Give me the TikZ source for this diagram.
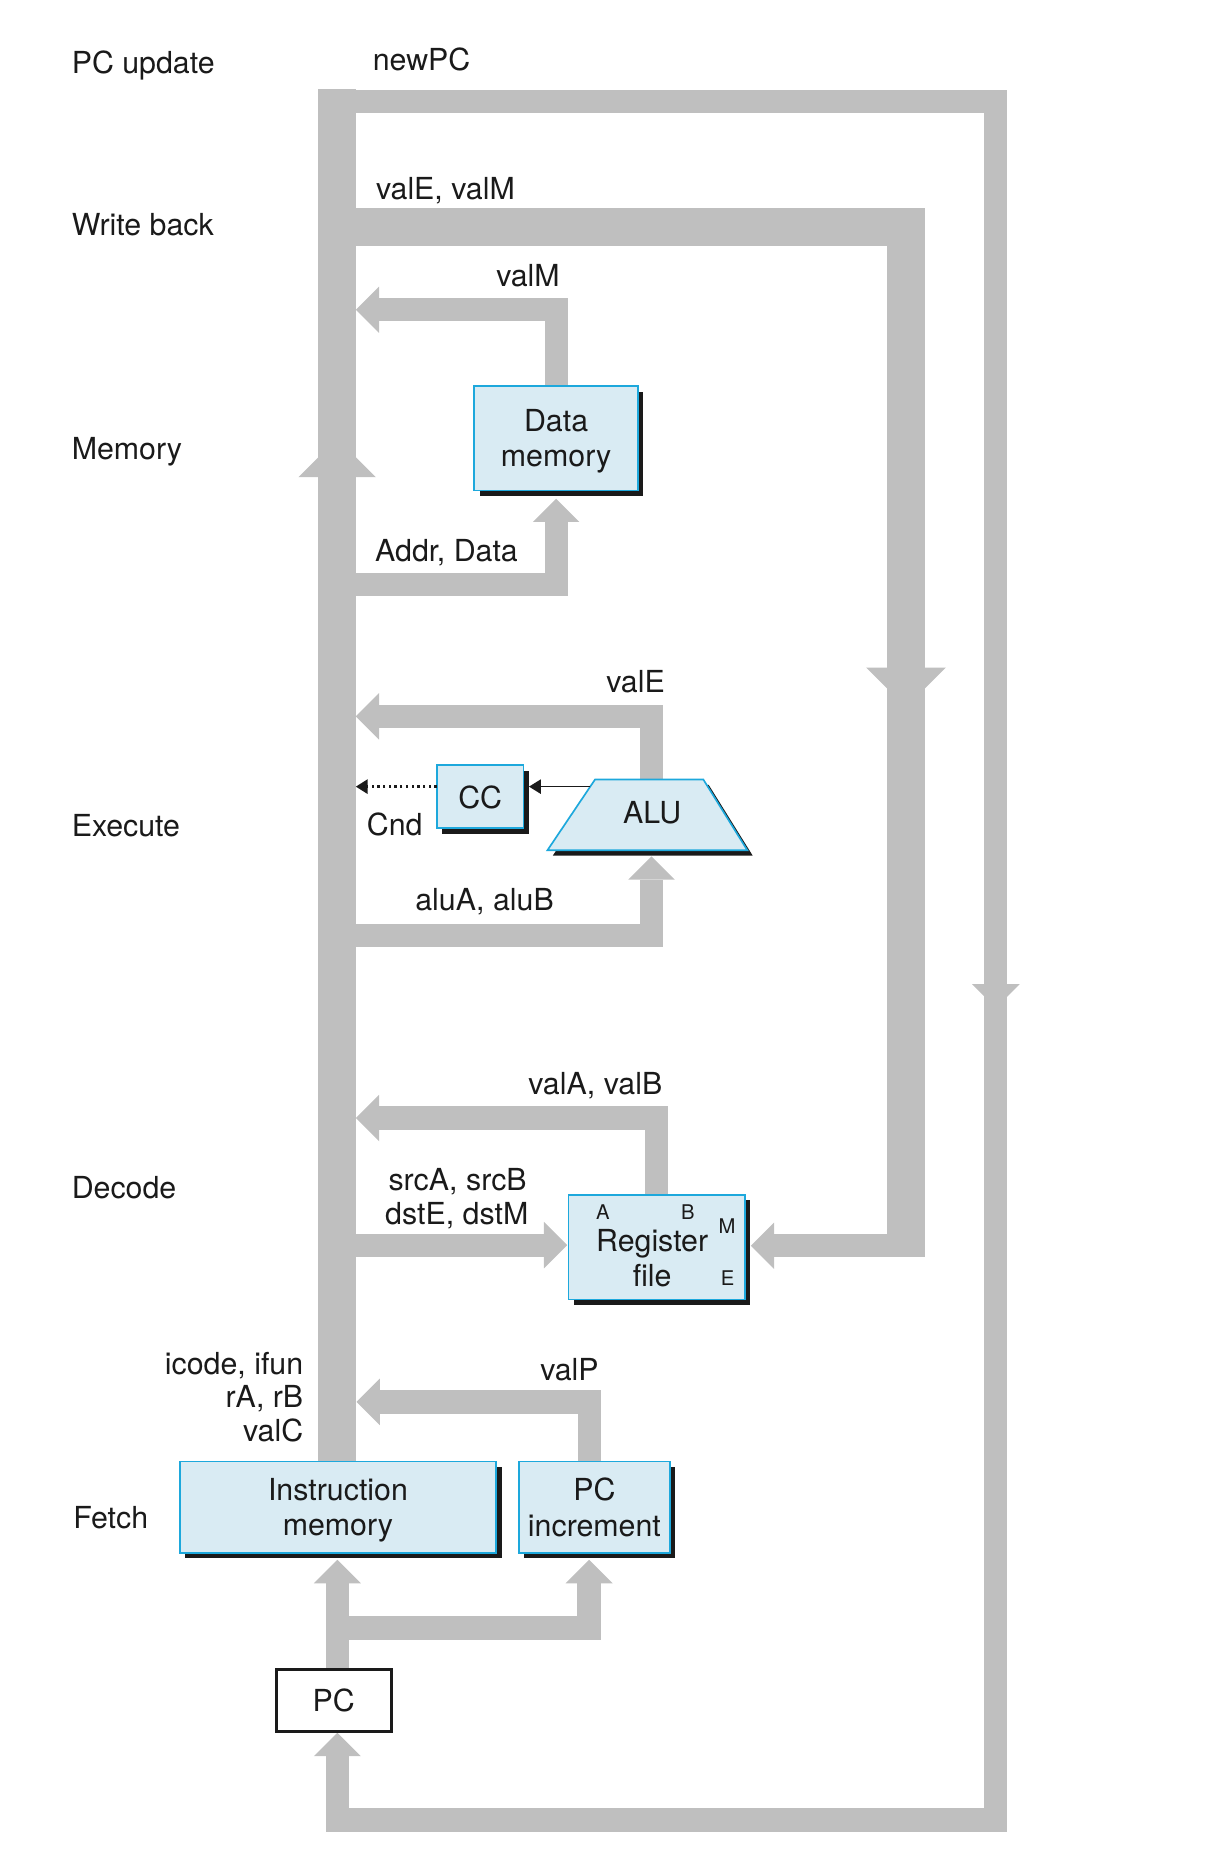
\documentclass[tikz,border=0pt]{standalone}
\usepackage{fontspec}
\setmainfont{TeX Gyre Heros}
\usetikzlibrary{shadows,arrows.meta}
\definecolor{busgray}{HTML}{BFBFBF}
\definecolor{boxfill}{HTML}{D9EBF3}
\definecolor{boxline}{HTML}{1DA8DC}
\definecolor{ink}{HTML}{1A1A1A}
\pgfdeclarelayer{buses}
\pgfsetlayers{buses,main}
% heads of the gray buses: tip point, half width (45 degree flanks)
\newcommand\bhL[2]{\fill[busgray] (#1) -- ++(#2,-#2) -- ++(0,2*#2) -- cycle;}
\newcommand\bhR[2]{\fill[busgray] (#1) -- ++(-#2,-#2) -- ++(0,2*#2) -- cycle;}
\newcommand\bhU[2]{\fill[busgray] (#1) -- ++(-#2,#2) -- ++(2*#2,0) -- cycle;}
\begin{document}
\begin{tikzpicture}[x=0.5pt,y=-0.5pt,
  every node/.style={font=\fontsize{12.75}{14.75}\selectfont, text=ink, inner sep=0pt, outer sep=0pt},
  lbl/.style={anchor=base west},
  rlbl/.style={anchor=base east},
  port/.style={anchor=base, font=\fontsize{8.5}{9}\selectfont},
  wide/.style={draw=busgray, line width=16pt, line join=miter},
  narrow/.style={draw=busgray, line width=9.75pt, line join=miter},
  unit/.style={draw=boxline, fill=boxfill, line width=0.7pt, align=center, text depth=0pt,
    drop shadow={shadow xshift=2.25pt, shadow yshift=-2.25pt, fill=ink, opacity=1}},
  wire/.style={draw=ink, line width=0.7pt, -{Triangle[length=5pt,width=6pt]}},
]
\useasboundingbox (0,0) rectangle (1029,1568);

% ---- hardware units
\node[unit, minimum width=68.75pt, minimum height=43.75pt] (dmem) at (467.3,368.3) {Data\\memory};
\node[unit, minimum width=36.5pt, minimum height=26.5pt] (cc) at (403.5,669.5) {CC};
\node[unit, minimum width=74.15pt, minimum height=44pt] (regfile) at (551.9,1048) {};
\node[unit, minimum width=133pt, minimum height=38.5pt] (imem) at (284,1266.5) {Instruction\\memory};
\node[unit, minimum width=63.5pt, minimum height=38.5pt, text depth=-1.5pt] (pcinc) at (499.5,1266.5) {PC\\increment};
\node[draw=ink, fill=white, line width=1.25pt, minimum width=48.5pt, minimum height=26pt] (pc) at (280.5,1429) {PC};

% ALU trapezoid with its shadow
\coordinate (aluTL) at (500,655); \coordinate (aluTR) at (591,655);
\coordinate (aluBR) at (628,714.5); \coordinate (aluBL) at (460,714.5);
\fill[ink] (504.5,659.5) -- (595.5,659.5) -- (632.5,719) -- (464.5,719) -- cycle;
\filldraw[draw=boxline, fill=boxfill, line width=0.7pt] (aluTL) -- (aluTR) -- (aluBR) -- (aluBL) -- cycle;
\node[anchor=base] (alu) at (548,692) {ALU};

% register file text and ports
\node[align=center] (rftext) at (548,1057.3) {Register\\file};
\node[port] (pA) at (506.6,1025) {A};
\node[port] (pB) at (578,1025) {B};
\node[port] (pM) at (611,1036.7) {M};
\node[port] (pE) at (611.5,1080) {E};

% condition codes
\coordinate (aluL) at (496,661);
\coordinate (ccR) at (444.5,661);
\coordinate (cndEnd) at (299,661);
\draw[wire] (aluL) -- (ccR);
\draw[wire, line width=1pt, dash pattern=on 1pt off 1.4pt] (cc.west |- aluL) -- (cndEnd);

% ---- gray buses
\begin{pgfonlayer}{buses}
\coordinate (busTop) at (283.3,75);
\draw[wide] (busTop) -- (busTop |- imem.north);
\fill[busgray] (250.8,401) -- (315.8,401) -- (283.3,368.5) -- cycle;
% newPC loop
\draw[narrow] (283.3,85) -- (836.8,85) -- (836.8,1529.3) -- (283.5,1529.3) -- (283.5,1475.7);
\fill[busgray] (816.8,827) -- (856.8,827) -- (836.8,847) -- cycle;
\bhU{283.5,1456}{19.7}
% write back
\draw[wide] (283.3,190.6) -- (761.3,190.6) -- (761.3,1056.6);
\fill[busgray] (727.8,561) -- (794.8,561) -- (761.3,594.5) -- cycle;
\draw[narrow] (761.3,1046.8) -- (650.5,1046.8);
\bhL{631,1046.8}{19.5}
% memory
\draw[narrow] (dmem.north) |- (318.5,260.3);
\bhL{299,260.3}{19.5}
\draw[narrow] (283.3,491.3) -| (467.3,438.5);
\bhU{467.3,419}{19.5}
% execute
\draw[narrow] (547.5,655) |- (318.5,602);
\bhL{299,602}{19.5}
\draw[narrow] (283.3,786) -| (547.5,739.1);
\bhU{547.5,719.6}{19.5}
% decode
\draw[narrow] (regfile.north) |- (318.5,939.5);
\bhL{299,939.5}{19.5}
\draw[narrow] (283.3,1046.3) -- (457.1,1046.3);
\bhR{476.6,1046.3}{19.5}
% fetch
\draw[narrow] (pcinc.north -| 495.5,0) |- (319.1,1178);
\bhL{299.6,1178}{19.5}
\draw[narrow] (pc.north -| 283.5,0) -- (283.5,1330.4);
\bhU{283.5,1310.7}{19.7}
\draw[narrow] (283.5,1368) -| (495,1330.4);
\bhU{495,1310.7}{19.7}
\end{pgfonlayer}

% ---- stage names
\node[lbl] (sPC) at (60.3,61.7) {PC update};
\node[lbl] (sWB) at (60.3,197.6) {Write back};
\node[lbl] (sMem) at (60.3,386) {Memory};
\node[lbl] (sEx) at (60.3,703) {Execute};
\node[lbl] (sDec) at (60.3,1007) {Decode};
\node[lbl] (sFe) at (61.6,1284.3) {Fetch};

% ---- signal names
\node[lbl] (lNewPC) at (313.3,59.4) {newPC};
\node[lbl] (lValEM) at (316,167.3) {valE, valM};
\node[lbl] (lValM) at (417,241) {valM};
\node[lbl] (lAddr) at (315.3,472.2) {Addr, Data};
\node[lbl] (lValE) at (509.5,582) {valE};
\node[lbl] (lCnd) at (308.3,702) {Cnd};
\node[lbl] (lAluAB) at (349,765) {aluA, aluB};
\node[lbl] (lValAB) at (444,920) {valA, valB};
\node[lbl] (lSrc) at (326.5,1000.4) {srcA, srcB};
\node[lbl] (lDst) at (323.7,1029) {dstE, dstM};
\node[rlbl] (lIcode) at (254.8,1155) {icode, ifun};
\node[rlbl] (lRegs) at (254.8,1183) {rA, rB};
\node[rlbl] (lValC) at (254.8,1211) {valC};
\node[lbl] (lValP) at (454,1160) {valP};
\end{tikzpicture}
\end{document}
